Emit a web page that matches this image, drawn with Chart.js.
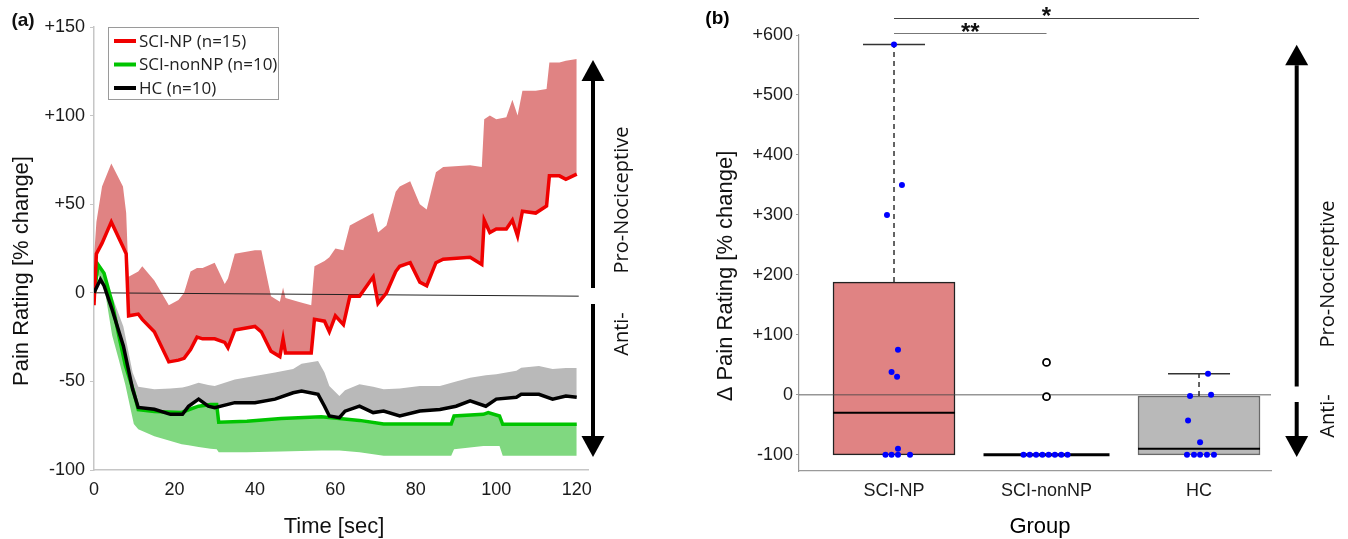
<!DOCTYPE html>
<html>
<head>
<meta charset="utf-8">
<script src="https://cdn.jsdelivr.net/npm/chart.js@4.4.0/dist/chart.umd.min.js"></script>
<style>
  html, body { margin: 0; padding: 0; background: #fff; }
  #wrap { position: relative; width: 1348px; height: 539px; }
  canvas { position: absolute; top: 0; }
  #chartA { left: 0; }
  #chartB { left: 674px; }
</style>
</head>
<body>
<div id="wrap">
  <canvas id="chartA" width="674" height="539"></canvas>
  <canvas id="chartB" width="674" height="539"></canvas>
</div>
<script>
// ---- panel (a): time courses ----
const timeTicks = [0, 20, 40, 60, 80, 100, 120];
const painTicks = [-100, -50, 0, 50, 100, 150];
const groupLabels = ["SCI-NP (n=15)", "SCI-nonNP (n=10)", "HC (n=10)"];

const redTime  = [0,0.6,2,4.3,7.2,8.0,8.6,11,12,15,18.6,21,22.4,24,25.6,27,30,32.5,33.3,35,40,41.6,44,46.2,47,47.6,50.8,54,54.8,57.3,58.5,60,62,63.6,66,69.4,70.6,72.7,75,76,78.6,81,82.7,85,86.8,93.5,96.4,97,98.4,100,102.5,104,105.3,106.5,109.8,112.5,113.2,115.7,117.3,120];
const redMean  = [-7,22,28,40,26,22,-13,-12,-15,-22,-39,-38,-37,-32,-25,-26,-26,-28,-31,-21,-19,-22,-33,-36,-26,-34,-34,-34,-15,-16,-22,-13,-18,-2,-2,9,-6,0,12,15,17,6,4,17,19,20,16,41,34,36,36,41,32,46,45,49,66,66,64,67];
const redUpper = [20,40,60,73,60,45,9,12,15,7,-7,-4,0,12,14,14,17,5,8,22,24,24,-2,-5,3,-3,-5,-7,15,18,20,25,24,38,41,45,34,38,57,60,63,50,47,68,71,72,71,98,100,98,99,109,100,114,114,115,130,130,131,132];

const greenTime  = [0,1,2.5,4.5,6.2,7.8,9.9,11,15,21.8,23.5,26,29,30.5,31,38,46.5,56.5,61,66,72,88.8,89.5,96.8,98,100.8,101.6,120];
const greenMean  = [-2,16,11,-5.5,-24.5,-41,-56,-66,-67,-67.5,-66,-64,-63,-63,-73,-72.5,-71,-70,-71,-72,-74,-74,-69.5,-68.6,-67.6,-69.5,-74.2,-74.2];
const greenLower = [-5,10,4,-24,-38,-52,-74,-77,-81,-85.5,-86,-87,-88,-88.3,-90,-90,-89.5,-89,-89,-90,-92,-92,-88.3,-86.5,-86.5,-86.5,-92,-92];

const hcTime  = [0,1.6,2.5,4.5,7.3,9.6,11,15,19,22,23.5,26,28.4,30,35,40,45,49.5,51.6,55.7,57.3,58.5,61,62.4,66,69.4,72,76,81,86,90,93.5,97.4,100,105,106.2,110.6,114,117.3,120];
const hcMean  = [0,7.5,4,-9.4,-30,-54.5,-64.7,-65.7,-68.6,-68.6,-64,-60,-64,-64.8,-62,-62,-60,-56.4,-55.5,-57.3,-64,-69.5,-70.5,-66.8,-64,-67.6,-66.7,-69.5,-66.7,-65.8,-64,-61,-64,-60,-59,-57.3,-57.3,-60,-58.3,-59];
const hcUpper = [0,8,6,-2,-19,-45,-53,-54.5,-54,-53.5,-52.6,-50.7,-52,-52.6,-48.9,-47,-45,-43,-40,-38.5,-45,-52.6,-58.3,-55,-51.6,-53,-54.5,-54,-52.6,-52.6,-50,-48,-46.5,-46,-44,-42.3,-41.3,-43,-42.5,-42.5];

const zeroTime = [0, 120.5];
const zeroFit  = [0, -1.9];

// ---- panel (b): boxplot ----
const groups     = ["SCI-NP", "SCI-nonNP", "HC"];
const boxLow     = [-100, -100, -100];
const boxHigh    = [188, -100, -2];
const medians    = [-30, -100, -90];
const whiskerTop = [584, null, 35];
const bTicks     = [-100, 0, 100, 200, 300, 400, 500, 600];

const npVals  = [584, 350, 300, 75, 38, 30, -90, -100, -100, -100, -100];
const npPos   = [1.0, 1.052, 0.954, 1.026, 0.984, 1.02, 1.026, 0.944, 0.984, 1.026, 1.105];
const nonVals = [-100, -100, -100, -100, -100, -100, -100, -100];
const nonPos  = [1.849, 1.890, 1.932, 1.973, 2.014, 2.055, 2.097, 2.138];
const hcVals  = [35, -2, 0, -43, -79, -100, -100, -100, -100, -100];
const hcPos   = [3.059, 2.941, 3.079, 2.928, 3.007, 2.921, 2.967, 3.007, 3.052, 3.098];
const outVals = [54, -3];
const outPos  = [2, 2];

const RED = "#f00000", RED_BAND = "#e08383";
const GREEN = "#00c400", GREEN_BAND = "#80d880";
const BLACK = "#000000", GRAY_BAND = "#b9b9b9";

const tickFont = { family: "'Liberation Sans', Arial, sans-serif", size: 18 };
const titleFont = "22px 'Liberation Sans', Arial, sans-serif";
const noteFont = "20px 'Open Sans', sans-serif";

const pts = (xs, ys) => xs.map((x, i) => ({ x: x, y: ys[i] }));
const signed = v => (v > 0 ? "+" + v : String(v));

function drawArrow(ctx, x, yTail, yTip, headLen, headHalf) {
  const dir = yTip < yTail ? -1 : 1;
  const base = yTip - dir * headLen;
  ctx.beginPath();
  ctx.lineWidth = 4;
  ctx.strokeStyle = "#000";
  ctx.moveTo(x, yTail);
  ctx.lineTo(x, base);
  ctx.stroke();
  ctx.beginPath();
  ctx.fillStyle = "#000";
  ctx.moveTo(x, yTip);
  ctx.lineTo(x - headHalf, base);
  ctx.lineTo(x + headHalf, base);
  ctx.closePath();
  ctx.fill();
}

function vText(ctx, text, x, y, font) {
  ctx.save();
  ctx.translate(x, y);
  ctx.rotate(-Math.PI / 2);
  ctx.font = font;
  ctx.fillStyle = "#111";
  ctx.textAlign = "center";
  ctx.textBaseline = "middle";
  ctx.fillText(text, 0, 0);
  ctx.restore();
}

const decorA = {
  id: "decorA",
  afterDraw(chart) {
    const { ctx, chartArea: a } = chart;
    ctx.save();
    // legend box
    const lx = a.left + 14, ly = a.top;
    ctx.fillStyle = "#fff";
    ctx.fillRect(lx, ly, 170, 72);
    ctx.strokeStyle = "#9a9a9a";
    ctx.lineWidth = 1;
    ctx.strokeRect(lx + 0.5, ly + 0.5, 170, 72);
    const cols = [RED, GREEN, BLACK];
    ctx.font = "17px 'Open Sans', sans-serif";
    ctx.textBaseline = "middle";
    groupLabels.forEach((lab, i) => {
      const yy = ly + 14 + i * 23.5;
      ctx.strokeStyle = cols[i];
      ctx.lineWidth = 4;
      ctx.beginPath();
      ctx.moveTo(lx + 6, yy);
      ctx.lineTo(lx + 28, yy);
      ctx.stroke();
      ctx.fillStyle = "#222";
      ctx.fillText(lab, lx + 31, yy + 1);
    });
    // arrows and notes
    drawArrow(ctx, 593, 288, 60, 21, 11.5);
    drawArrow(ctx, 593, 304, 457, 21, 11.5);
    vText(ctx, "Pro-Nociceptive", 622, 200, noteFont);
    vText(ctx, "Anti-", 622, 334, noteFont);
    // titles
    vText(ctx, "Pain Rating [% change]", 22, 271, titleFont);
    ctx.font = titleFont;
    ctx.fillStyle = "#111";
    ctx.textAlign = "center";
    ctx.fillText("Time [sec]", 334, 527);
    ctx.font = "bold 19px 'Liberation Sans', Arial, sans-serif";
    ctx.fillText("(a)", 23, 21);
    ctx.restore();
  }
};

new Chart(document.getElementById("chartA"), {
  type: "line",
  data: {
    datasets: [
      { data: pts(zeroTime, zeroFit), borderColor: "#222", borderWidth: 1, pointRadius: 0, fill: false, order: 5 },
      { data: pts(redTime, redMean), borderColor: RED, borderWidth: 3.5, pointRadius: 0, fill: false, order: 2 },
      { data: pts(redTime, redUpper), borderWidth: 0, borderColor: RED_BAND, backgroundColor: RED_BAND, pointRadius: 0, fill: 1, order: 10 },
      { data: pts(greenTime, greenMean), borderColor: GREEN, borderWidth: 3.5, pointRadius: 0, fill: false, order: 3 },
      { data: pts(greenTime, greenLower), borderWidth: 0, borderColor: GREEN_BAND, backgroundColor: GREEN_BAND, pointRadius: 0, fill: 3, order: 12 },
      { data: pts(hcTime, hcMean), borderColor: BLACK, borderWidth: 3.5, pointRadius: 0, fill: false, order: 1 },
      { data: pts(hcTime, hcUpper), borderWidth: 0, borderColor: GRAY_BAND, backgroundColor: GRAY_BAND, pointRadius: 0, fill: 5, order: 11 }
    ]
  },
  options: {
    responsive: false,
    animation: false,
    layout: { autoPadding: false, padding: { top: 27, right: 86, left: 0, bottom: 0 } },
    plugins: { legend: { display: false }, tooltip: { enabled: false } },
    elements: { line: { tension: 0 } },
    scales: {
      x: {
        type: "linear", min: 0, max: 122.8,
        afterBuildTicks: s => { s.ticks = timeTicks.map(v => ({ value: v })); },
        afterFit: s => { s.height = 69; },
        grid: { drawOnChartArea: false, drawTicks: false },
        border: { color: "#c6c6c6", width: 1.5 },
        ticks: { font: tickFont, color: "#1a1a1a", padding: 9, maxRotation: 0 }
      },
      y: {
        min: -100, max: 150,
        afterBuildTicks: s => { s.ticks = painTicks.map(v => ({ value: v })); },
        afterFit: s => { s.width = 94; },
        grid: { drawOnChartArea: false, tickLength: 4, color: "#c6c6c6" },
        border: { color: "#c6c6c6", width: 1.5 },
        ticks: { font: tickFont, color: "#1a1a1a", padding: 5, callback: v => signed(v) }
      }
    }
  },
  plugins: [decorA]
});

const decorB = {
  id: "decorB",
  afterDraw(chart) {
    const { ctx, scales: { x, y } } = chart;
    ctx.save();
    // significance bars
    ctx.lineWidth = 1.2;
    const y1 = Math.round(y.getPixelForValue(603)) + 0.5;
    const y2 = Math.round(y.getPixelForValue(628)) + 0.5;
    ctx.strokeStyle = "#777";
    ctx.beginPath();
    ctx.moveTo(x.getPixelForValue(1), y1); ctx.lineTo(x.getPixelForValue(2), y1);
    ctx.stroke();
    ctx.strokeStyle = "#444";
    ctx.beginPath();
    ctx.moveTo(x.getPixelForValue(1), y2); ctx.lineTo(x.getPixelForValue(3), y2);
    ctx.stroke();
    ctx.fillStyle = "#111";
    ctx.textAlign = "center";
    ctx.textBaseline = "alphabetic";
    ctx.font = "bold 24px 'Liberation Sans', Arial, sans-serif";
    ctx.fillText("**", x.getPixelForValue(1.5), y1 + 6);
    ctx.fillText("*", x.getPixelForValue(2), y2 + 5.5);
    // arrows and notes
    drawArrow(ctx, 622.7, 386.6, 44.7, 20.5, 11.5);
    drawArrow(ctx, 622.7, 402, 457, 21, 11.5);
    vText(ctx, "Pro-Nociceptive", 654, 274, noteFont);
    vText(ctx, "Anti-", 654, 416, noteFont);
    // titles
    vText(ctx, "\u0394 Pain Rating [% change]", 52, 276, titleFont);
    ctx.font = titleFont;
    ctx.textBaseline = "middle";
    ctx.fillText("Group", 366, 527);
    ctx.font = "bold 19px 'Liberation Sans', Arial, sans-serif";
    ctx.fillText("(b)", 43.5, 19);
    ctx.restore();
  }
};

const boxData = [], boxColors = [], boxBorders = [];
groups.forEach((g, i) => {
  if (boxHigh[i] > boxLow[i]) {
    boxData.push({ x: i + 1, y: [boxLow[i], boxHigh[i]] });
    boxColors.push(i === 0 ? RED_BAND : GRAY_BAND);
    boxBorders.push(i === 0 ? "#222" : "#6a6a6a");
  }
});
const whiskers = [];
groups.forEach((g, i) => {
  if (whiskerTop[i] !== null) whiskers.push([{ x: i + 1, y: boxHigh[i] }, { x: i + 1, y: whiskerTop[i] }]);
});

new Chart(document.getElementById("chartB"), {
  type: "scatter",
  data: {
    datasets: [
      { type: "bar", data: boxData, backgroundColor: boxColors, borderColor: boxBorders, borderWidth: 1.5, borderSkipped: false, barThickness: 122, order: 20 },
      { type: "line", data: [{ x: 0.377, y: 0 }, { x: 3.472, y: 0 }], borderColor: "rgba(70,70,70,0.85)", borderWidth: 1, pointRadius: 0, order: 15 },
      ...whiskers.map(w => ({ type: "line", data: w, borderColor: "#222", borderWidth: 1.4, borderDash: [5, 4], pointRadius: 0, order: 14 })),
      { data: whiskerTop.map((v, i) => ({ x: i + 1, y: v })).filter(p => p.y !== null), pointStyle: "line", pointRadius: 31, pointBorderWidth: 1.5, pointBorderColor: "#333", order: 13 },
      { data: medians.map((v, i) => ({ x: i + 1, y: v })), pointStyle: "line", pointRadius: [61, 63, 61], pointBorderWidth: [2, 3, 2], pointBorderColor: "#000", order: 12 },
      { data: pts(outPos, outVals), pointRadius: 3.5, pointBorderWidth: 1.8, pointBorderColor: "#000", pointBackgroundColor: "#fff", order: 11 },
      { data: pts(npPos, npVals).concat(pts(nonPos, nonVals), pts(hcPos, hcVals)), pointRadius: 3, pointBorderWidth: 0, pointBackgroundColor: "#0000ff", pointBorderColor: "#0000ff", order: 10 }
    ]
  },
  options: {
    responsive: false,
    animation: false,
    layout: { autoPadding: false, padding: { top: 35, right: 77, left: 0, bottom: 0 } },
    plugins: { legend: { display: false }, tooltip: { enabled: false } },
    scales: {
      x: {
        type: "linear", min: 0.377, max: 3.472, offset: false,
        afterBuildTicks: s => { s.ticks = groups.map((g, i) => ({ value: i + 1 })); },
        afterFit: s => { s.height = 68; },
        grid: { drawOnChartArea: false, drawTicks: false, offset: false },
        border: { color: "#9a9a9a", width: 1.2 },
        ticks: { font: tickFont, color: "#1a1a1a", padding: 9, maxRotation: 0, callback: v => groups[v - 1] }
      },
      y: {
        min: -127, max: 600,
        afterBuildTicks: s => { s.ticks = bTicks.map(v => ({ value: v })); },
        afterFit: s => { s.width = 125; },
        grid: { drawOnChartArea: false, tickLength: 3, color: "#9a9a9a" },
        border: { color: "#9a9a9a", width: 1.2 },
        ticks: { font: tickFont, color: "#1a1a1a", padding: 3, callback: v => signed(v) }
      }
    }
  },
  plugins: [decorB]
});
</script>
</body>
</html>
